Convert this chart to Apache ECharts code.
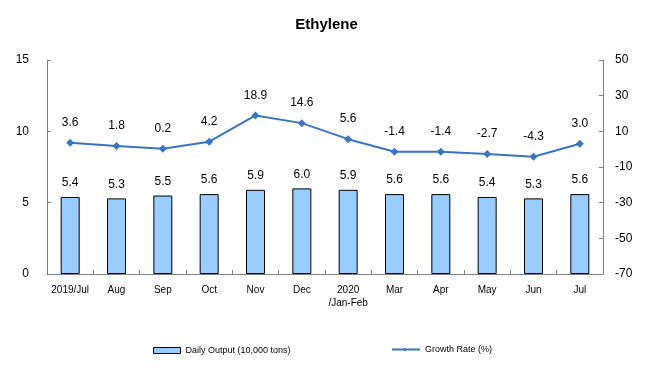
<!DOCTYPE html>
<html><head><meta charset="utf-8">
<script src="https://cdn.jsdelivr.net/npm/echarts@6/dist/echarts.min.js"></script>
<style>html,body{margin:0;padding:0;background:#fff}#c{width:653px;height:390px}</style>
</head><body><div id="c"></div>
<script>
const categories = ['2019/Jul','Aug','Sep','Oct','Nov','Dec','2020\n/Jan-Feb','Mar','Apr','May','Jun','Jul'];
const dailyOutput = [5.4,5.3,5.5,5.6,5.9,6.0,5.9,5.6,5.6,5.4,5.3,5.6];
const growthRate = [3.6,1.8,0.2,4.2,18.9,14.6,5.6,-1.4,-1.4,-2.7,-4.3,3.0];
const leftTicks = [0,15,5];
const rightTicks = [-70,50,20];
const F = 'Arial, "Liberation Sans", sans-serif';
const chart = echarts.init(document.getElementById('c'));
chart.setOption({
  animation:false,
  title:{text:'Ethylene',left:'center',top:12,textStyle:{fontFamily:F,fontSize:15,fontWeight:'bold',color:'#000'}},
  grid:{left:47,right:50,top:60,bottom:116},
  legend:[
    {data:[{name:'Daily Output (10,000 tons)',icon:'rect',itemStyle:{borderWidth:1,borderColor:'#000'}}],left:148,top:341,itemWidth:27,itemHeight:6,itemGap:2,textStyle:{fontFamily:F,fontSize:9,color:'#000'}},
    {data:[{name:'Growth Rate (%)',icon:'path://M0,3 L12,3 L13,2 L14,3 L28,3 L28,5 L14,5 L13,6 L12,5 L0,5 Z'}],left:387,top:340,itemWidth:28,itemHeight:8,itemGap:2,textStyle:{fontFamily:F,fontSize:9,color:'#000'}}
  ],
  xAxis:{type:'category',data:categories,
    axisLine:{lineStyle:{color:'#808080'}},
    axisTick:{show:true,inside:true,length:4,lineStyle:{color:'#808080'}},
    axisLabel:{fontFamily:F,fontSize:10,color:'#000',interval:0,margin:10,lineHeight:13}},
  yAxis:[
    {type:'value',min:leftTicks[0],max:leftTicks[1],interval:leftTicks[2],
     axisLine:{show:true,lineStyle:{color:'#808080'}},axisTick:{show:true,inside:true,length:4,lineStyle:{color:'#808080'}},
     splitLine:{show:false},axisLabel:{fontFamily:F,fontSize:12,color:'#000',margin:18}},
    {type:'value',min:rightTicks[0],max:rightTicks[1],interval:rightTicks[2],position:'right',
     axisLine:{show:true,lineStyle:{color:'#808080'}},axisTick:{show:true,inside:true,length:4,lineStyle:{color:'#808080'}},
     splitLine:{show:false},axisLabel:{fontFamily:F,fontSize:12,color:'#000',margin:12}}
  ],
  series:[
    {name:'Daily Output (10,000 tons)',type:'bar',data:dailyOutput,yAxisIndex:0,barWidth:19,
     itemStyle:{color:'#99CCFF',borderColor:'#000',borderWidth:1},
     label:{show:true,position:'top',distance:8,fontFamily:F,fontSize:12,color:'#000',formatter:p=>p.value.toFixed(1)}},
    {name:'Growth Rate (%)',type:'line',data:growthRate,yAxisIndex:1,
     symbol:'diamond',symbolSize:8,
     lineStyle:{color:'#3A75C4',width:2},itemStyle:{color:'#3A75C4'},
     label:{show:true,position:'top',distance:10,fontFamily:F,fontSize:12,color:'#000',formatter:p=>p.value.toFixed(1)}}
  ]
});
</script></body></html>
